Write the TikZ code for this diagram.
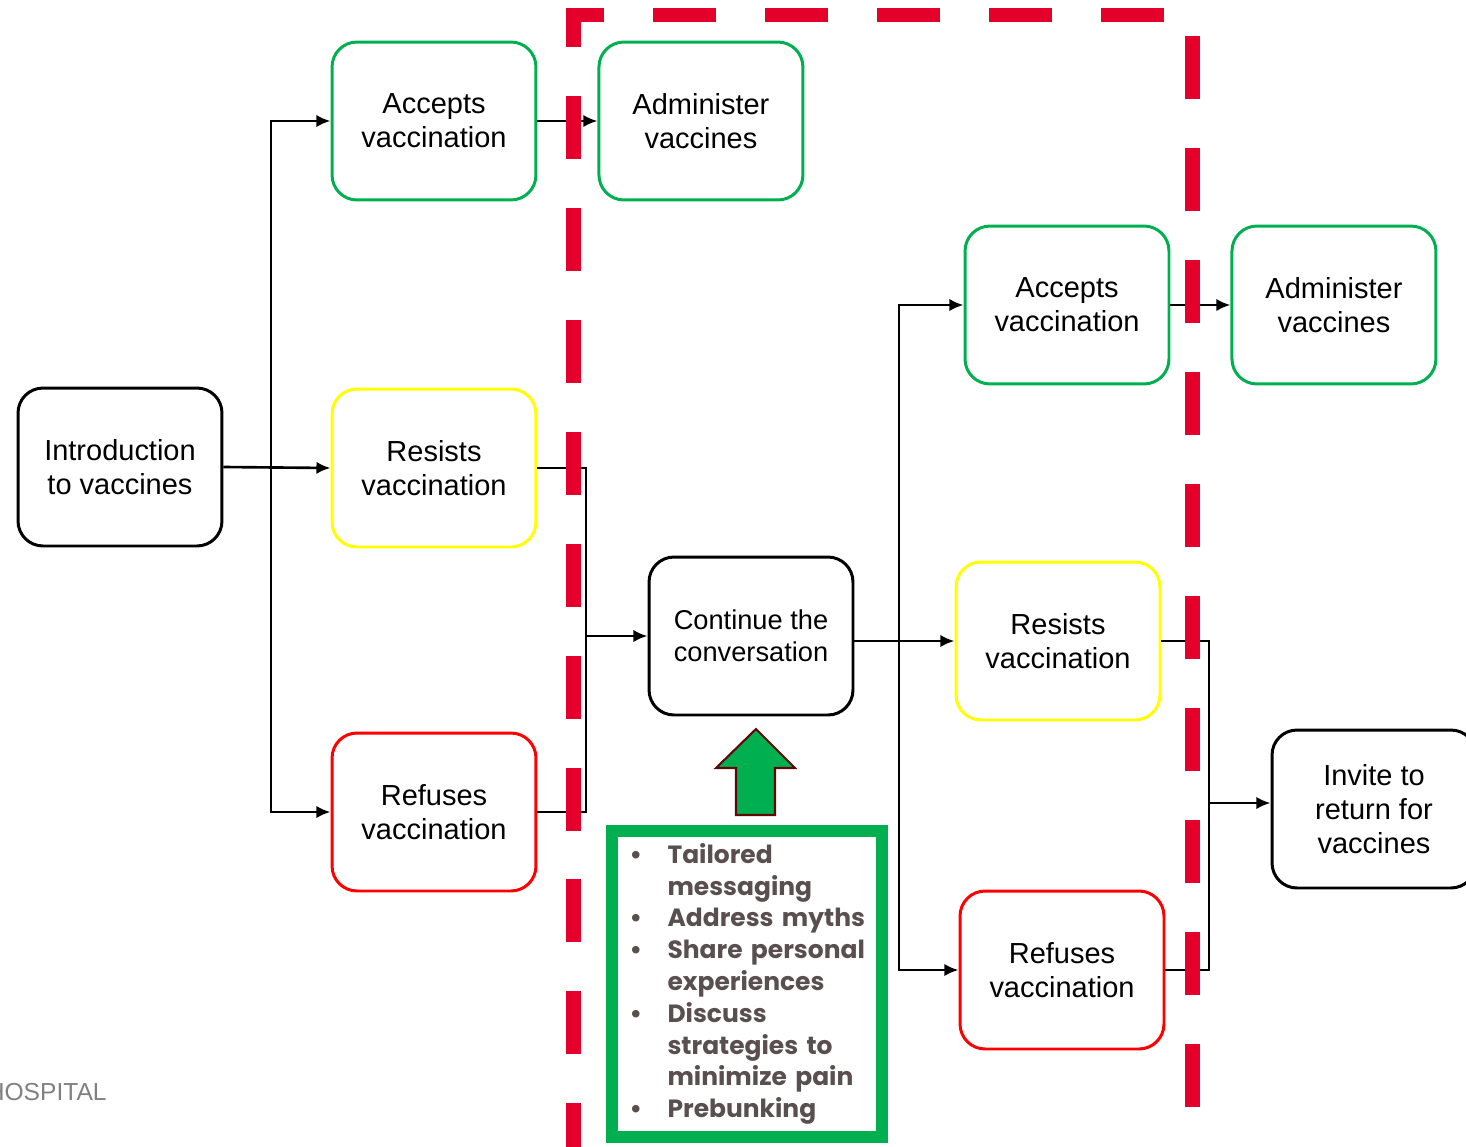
\documentclass[tikz,border=0pt]{standalone}
\usepackage{fontspec}
\setmainfont{Liberation Sans}
\newfontfamily\listfont{Poppins}
\usetikzlibrary{calc, arrows.meta, positioning}
\definecolor{FlowGreen}{RGB}{0, 176, 80}
\definecolor{FlowYellow}{RGB}{255, 255, 0}
\definecolor{FlowRed}{RGB}{255, 0, 0}
\definecolor{ZoneRed}{RGB}{228, 0, 43}
\definecolor{ArrowMaroon}{RGB}{96, 8, 8}
\definecolor{ListGray}{RGB}{89, 79, 79}

\begin{document}
\begin{tikzpicture}[
          x=0.02cm, y=-0.02cm,
          node distance=1.2cm,
          box/.style={rectangle, rounded corners=0.5cm, draw=black, line width=1.7pt, fill=white, minimum width=4.08cm, minimum height=3.16cm, align=center, font=\fontsize{16.5}{19.4}\selectfont},
          acc/.style={box, draw=FlowGreen},
          res/.style={box, draw=FlowYellow},
          ref/.style={box, draw=FlowRed},
          arr/.style={-{Latex[length=8pt, width=7pt]}, line width=1.5pt},
          link/.style={line width=1.5pt}
        ]
          \useasboundingbox (0,0) rectangle (1466,1146);

          \node[box] (intro) at (120,467) {Introduction\\to vaccines};
          \node[acc] (acc1) at (434,121) {Accepts\\vaccination};
          \node[acc, right=of acc1] (adm1) {Administer\\vaccines};
          \node[res] (res1) at (434,468) {Resists\\vaccination};
          \node[ref] (ref1) at (434,812) {Refuses\\vaccination};
          \node[box, font=\fontsize{15.5}{18.2}\selectfont] (cont) at (751,636) {Continue the\\conversation};
          \node[acc] (acc2) at (1067,305) {Accepts\\vaccination};
          \node[acc, right=of acc2] (adm2) {Administer\\vaccines};
          \node[res] (res2) at (1058,641) {Resists\\vaccination};
          \node[ref] (ref2) at (1062,970) {Refuses\\vaccination};
          \node[box] (invite) at (1374,809) {Invite to\\return for\\vaccines};

          % first split
          \coordinate (j1) at (271,467);
          \draw[arr] (intro.east) -- (res1.west);
          \draw[arr] (j1) |- (acc1.west);
          \draw[arr] (j1) |- (ref1.west);
          \draw[arr] (acc1.east) -- (adm1.west);

          % back into the conversation
          \coordinate (j2) at (586,636);
          \draw[link] (res1.east) -| (j2);
          \draw[link] (ref1.east) -| (j2);
          \draw[arr] (j2) -- (cont.west);

          % second split
          \coordinate (j3) at (899,641);
          \draw[arr] (cont.east |- j3) -- (res2.west);
          \draw[arr] (j3) |- (acc2.west);
          \draw[arr] (j3) |- (ref2.west);
          \draw[arr] (acc2.east) -- (adm2.west);

          % invite back
          \coordinate (j4) at (1209,803);
          \draw[link] (res2.east) -| (j4);
          \draw[link] (ref2.east) -| (j4);
          \draw[arr] (j4) -- (j4 -| invite.west);

          % dashed zone
          \draw[ZoneRed, line width=0.3cm, dash pattern=on 1.26cm off 0.98cm] (1192,1107) -- (1192,15) -- (573,15) -- (573,1160);

          % talking points
          \node[rectangle, draw=FlowGreen, line width=0.24cm, fill=white, minimum width=5.4cm, minimum height=6.12cm, text width=4.9cm, inner xsep=0.25cm, align=left, text=ListGray, font=\listfont\bfseries\fontsize{14.2}{18.1}\selectfont] (talk) at (747,984)
            {\hspace*{0.1cm}\makebox[0.76cm][l]{\textbullet}Tailored\\
             \hspace*{0.86cm}messaging\\
             \hspace*{0.1cm}\makebox[0.76cm][l]{\textbullet}Address myths\\
             \hspace*{0.1cm}\makebox[0.76cm][l]{\textbullet}Share personal\\
             \hspace*{0.86cm}experiences\\
             \hspace*{0.1cm}\makebox[0.76cm][l]{\textbullet}Discuss\\
             \hspace*{0.86cm}strategies to\\
             \hspace*{0.86cm}minimize pain\\
             \hspace*{0.1cm}\makebox[0.76cm][l]{\textbullet}Prebunking};
          \draw[draw=ArrowMaroon, fill=FlowGreen, line width=1.2pt] (756,729) -- (795,768) -- (775,768) -- (775,815) -- (736,815) -- (736,768) -- (716,768) -- cycle;

          \node[anchor=east, inner sep=0pt, text=gray, font=\fontsize{14}{17}\selectfont] (hosp) at (107,1092) {HOSPITAL};
        \end{tikzpicture}
\end{document}
